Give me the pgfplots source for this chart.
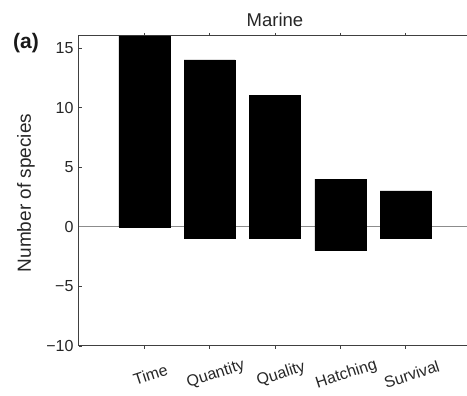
\documentclass[border=0pt]{standalone}
\usepackage{fontspec}
\setmainfont{Liberation Sans}
\usepackage{pgfplots}
\pgfplotsset{compat=1.18}
\begin{document}
\begin{tikzpicture}[x=1pt,y=1pt]
\begin{axis}[
  at={(0pt,0pt)}, anchor=south west,
  scale only axis, width=392pt, height=310pt,
  xmin=0, xmax=6, ymin=-10, ymax=16,
  xtick={1,2,3,4,5},
  xticklabels={Time,Quantity,Quality,Hatching,Survival},
  ytick={-10,-5,0,5,10,15},
  yticklabels={−10,−5,0,5,10,15},
  tick align=inside, major tick length=3pt,
  axis line style={draw=black!75, line width=1pt},
  tick style={draw=black!75, line width=0.7pt},
  yticklabel style={font=\fontsize{16}{18}\selectfont, text=black!85, anchor=east, xshift=-2pt},
  xticklabel style={font=\fontsize{16}{18}\selectfont, text=black!85, rotate=18, anchor=center, yshift=-26pt, xshift=-2pt},
  ybar, bar width=0.78, bar shift=0pt,
  clip=true,
]
\addplot[sharp plot, draw=black!45, line width=0.7pt] coordinates {(0,0) (6,0)};
\addplot[fill=black, draw=black] coordinates {(1,16) (2,14) (3,11) (4,4) (5,3)};
\addplot[fill=black, draw=black] coordinates {(2,-1) (3,-1) (4,-2) (5,-1)};
\end{axis}
\node[rotate=90, font=\fontsize{19}{21}\selectfont, text=black!85] at (-53pt,153pt) {Number of species};
\node[font=\fontsize{18.5}{21}\selectfont, text=black!85] at (196pt,326pt) {Marine};
\node[font=\bfseries\fontsize{21}{24}\selectfont, text=black!90] at (-53pt,303pt) {(a)};
\pgfresetboundingbox
\path[use as bounding box] (-79pt,-50pt) rectangle (388pt,346pt);
\end{tikzpicture}
\end{document}
